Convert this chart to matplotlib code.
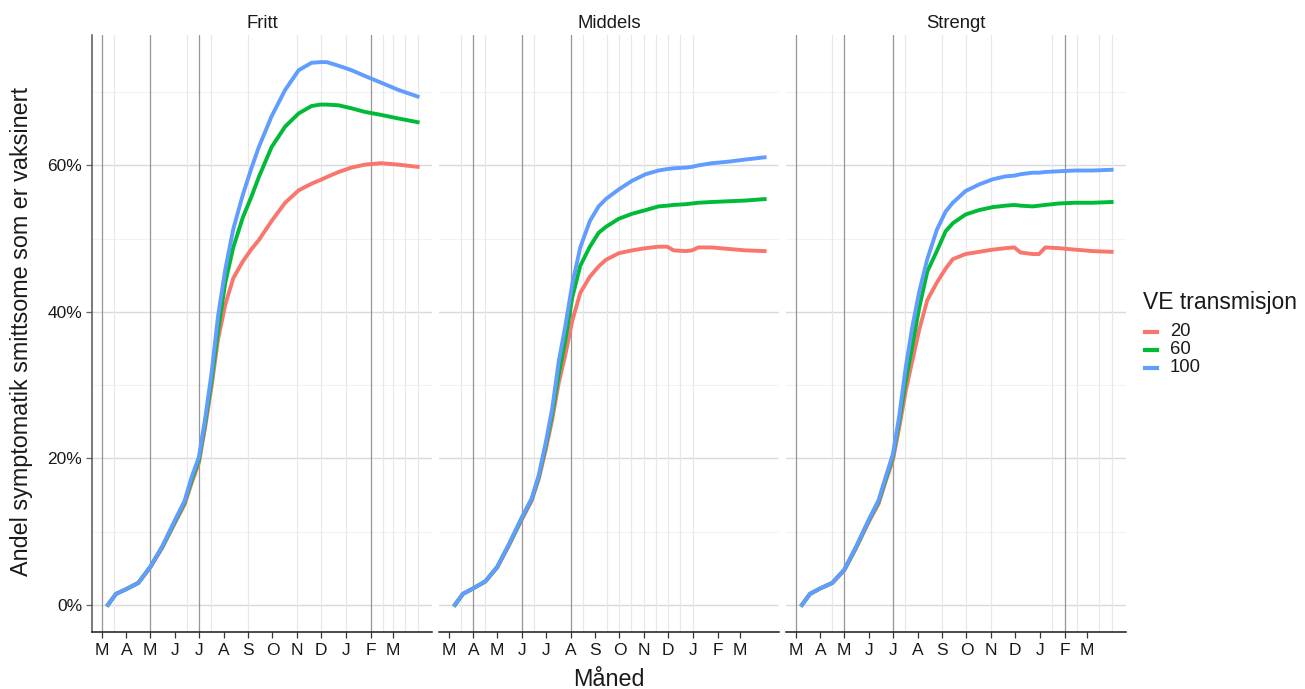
import numpy as np
import matplotlib.pyplot as plt
from matplotlib.ticker import FuncFormatter
from matplotlib.lines import Line2D

plt.rcParams['font.family'] = ['Liberation Sans', 'DejaVu Sans']

# dager etter 1. mars 2021
start = np.datetime64('2021-03-01')
dager = [8, 18, 30, 46, 61, 76, 92, 104, 113, 122, 130, 138, 146, 155, 165, 177,
         188, 197, 213, 230, 247, 263, 274, 282, 297, 305, 313, 330, 350, 372, 396]

# andel (%) per scenario og VE transmisjon
fritt_20 = [0.0, 1.5, 2.1, 3.0, 5.1, 7.8, 11.2, 13.7, 16.7, 19.4, 24.4, 30.0, 36.3, 41.0, 44.6, 46.9,
            48.6, 49.8, 52.4, 54.9, 56.6, 57.5, 58.0, 58.4, 59.1, 59.4, 59.7, 60.1, 60.3, 60.1, 59.8]
fritt_60 = [0.0, 1.5, 2.1, 3.0, 5.2, 7.9, 11.4, 14.0, 17.1, 19.8, 25.0, 30.8, 37.5, 44.0, 48.8, 52.9,
            55.8, 58.4, 62.5, 65.3, 67.1, 68.1, 68.3, 68.3, 68.2, 68.0, 67.8, 67.3, 66.9, 66.4, 65.9]
fritt_100 = [0.0, 1.5, 2.1, 3.0, 5.2, 8.0, 11.6, 14.2, 17.5, 20.2, 25.6, 31.8, 39.5, 45.8, 51.3, 56.0,
             59.7, 62.5, 66.7, 70.3, 73.0, 74.0, 74.1, 74.1, 73.6, 73.3, 73.0, 72.2, 71.3, 70.3, 69.4]

middels_20 = [0.0, 1.5, 2.2, 3.2, 5.1, 8.2, 11.7, 14.2, 17.2, 21.3, 25.4, 30.3, 34.0, 38.8, 42.6, 44.8,
              46.2, 47.1, 48.0, 48.4, 48.7, 48.9, 48.9, 48.4, 48.3, 48.4, 48.8, 48.8, 48.6, 48.4, 48.3]
middels_60 = [0.0, 1.5, 2.2, 3.2, 5.2, 8.3, 11.9, 14.4, 17.5, 21.9, 26.2, 31.5, 36.0, 42.0, 46.3, 48.9,
              50.8, 51.6, 52.7, 53.4, 53.9, 54.4, 54.5, 54.6, 54.7, 54.8, 54.9, 55.0, 55.1, 55.2, 55.4]
middels_100 = [0.0, 1.5, 2.2, 3.2, 5.2, 8.4, 12.0, 14.5, 17.7, 22.3, 26.9, 33.2, 37.9, 43.8, 48.8, 52.4,
               54.4, 55.4, 56.7, 57.9, 58.8, 59.3, 59.5, 59.6, 59.7, 59.8, 60.0, 60.3, 60.5, 60.8, 61.1]

strengt_20 = [0.0, 1.5, 2.2, 3.0, 4.7, 7.8, 11.4, 13.8, 16.9, 19.8, 24.3, 29.2, 33.2, 37.6, 41.6, 44.0,
              45.9, 47.2, 47.9, 48.2, 48.5, 48.7, 48.8, 48.1, 47.9, 47.9, 48.8, 48.7, 48.5, 48.3, 48.2]
strengt_60 = [0.0, 1.5, 2.2, 3.0, 4.8, 7.9, 11.6, 14.1, 17.2, 20.3, 25.2, 30.6, 35.2, 40.6, 45.5, 48.3,
              51.0, 52.1, 53.3, 53.9, 54.3, 54.5, 54.6, 54.5, 54.4, 54.5, 54.6, 54.8, 54.9, 54.9, 55.0]
strengt_100 = [0.0, 1.5, 2.2, 3.0, 4.8, 8.0, 11.7, 14.3, 17.5, 20.6, 25.9, 32.4, 37.8, 42.8, 47.2, 51.2,
               53.7, 54.9, 56.5, 57.4, 58.1, 58.5, 58.6, 58.8, 59.0, 59.0, 59.1, 59.2, 59.3, 59.3, 59.4]

scenarier = ['Fritt', 'Middels', 'Strengt']
ve_niva = ['20', '60', '100']
farger = ['#F8766D', '#00BA38', '#619CFF']
serier = {
    'Fritt': [fritt_20, fritt_60, fritt_100],
    'Middels': [middels_20, middels_60, middels_100],
    'Strengt': [strengt_20, strengt_60, strengt_100],
}

# tiltaksdatoer (mørke) og hjelpelinjer (lyse) per scenario
mork_linjer = {
    'Fritt': ['2021-03-01', '2021-05-01', '2021-07-01', '2022-02-01'],
    'Middels': ['2021-04-01', '2021-06-01', '2021-08-01'],
    'Strengt': ['2021-03-01', '2021-05-01', '2021-07-01', '2022-02-01'],
}
lyse_linjer = {
    'Fritt': ['2021-03-16', '2021-06-16', '2021-07-16', '2021-09-01', '2021-11-01', '2021-12-01',
              '2022-01-01', '2022-02-16', '2022-03-01', '2022-03-16', '2022-04-01'],
    'Middels': ['2021-03-16', '2021-04-16', '2021-06-16', '2021-08-16', '2021-09-16', '2021-10-01',
                '2021-10-16', '2021-11-01', '2021-11-16', '2021-12-01', '2021-12-16', '2022-01-01'],
    'Strengt': ['2021-04-16', '2021-07-16', '2021-09-01', '2021-10-01', '2021-11-01', '2022-01-16',
                '2022-02-16', '2022-03-16', '2022-04-01'],
}

maaneder = ['M', 'A', 'M', 'J', 'J', 'A', 'S', 'O', 'N', 'D', 'J', 'F', 'M']
maaned_start = np.arange(np.datetime64('2021-03'), np.datetime64('2022-04')).astype('datetime64[D]')

x = start + np.array(dager).astype('timedelta64[D]')
xmin = start - np.timedelta64(12, 'D')
xmax = start + np.timedelta64(414, 'D')

W, H = 1305, 689
fig = plt.figure(figsize=(W / 100, H / 100), dpi=100)

venstre = [92, 439, 786]
bredde = 340
bunn, topp = 632, 35

for i, navn in enumerate(scenarier):
    ax = fig.add_axes([venstre[i] / W, (H - bunn) / H, bredde / W, (bunn - topp) / H])
    ax.set_xlim(xmin, xmax)
    ax.set_ylim(-3.7, 77.8)

    # horisontalt rutenett
    for v in [10, 30, 50, 70]:
        ax.axhline(v, color='#f2f2f2', lw=0.8, zorder=0)
    for v in [0, 20, 40, 60]:
        ax.axhline(v, color='#dadada', lw=1.0, zorder=0)

    for d in lyse_linjer[navn]:
        ax.axvline(np.datetime64(d), color='#e8e8e8', lw=0.9, zorder=0.5)
    for d in mork_linjer[navn]:
        ax.axvline(np.datetime64(d), color='#969696', lw=0.9, zorder=0.6)

    for y, farge in zip(serier[navn], farger):
        ax.plot(x, y, color=farge, lw=2.8, solid_joinstyle='round', zorder=2)

    # fasettittel
    fig.text((venstre[i] + bredde / 2) / W, 1 - 28 / H, navn, ha='center', va='baseline',
             fontsize=13.3, color='#1a1a1a')

    ax.set_xticks(maaned_start)
    ax.set_xticklabels(maaneder)
    ax.tick_params(axis='x', length=4, width=0.9, color='#333333', pad=4,
                   labelsize=12.5, labelcolor='#1a1a1a')

    for s in ['top', 'right']:
        ax.spines[s].set_visible(False)
    ax.spines['bottom'].set_color('#1a1a1a')
    ax.spines['bottom'].set_linewidth(1.1)

    if i == 0:
        ax.set_yticks([0, 20, 40, 60])
        ax.yaxis.set_major_formatter(FuncFormatter(lambda v, p: f'{v:.0f}%'))
        ax.tick_params(axis='y', length=4, width=0.9, color='#666666', pad=3,
                       labelsize=12.5, labelcolor='#1a1a1a')
        ax.spines['left'].set_color('#555555')
        ax.spines['left'].set_linewidth(1.1)
    else:
        ax.set_yticks([])
        ax.spines['left'].set_visible(False)

fig.text(609 / W, 1 - 680 / H, 'Måned', ha='center', va='center', fontsize=16.8, color='#1a1a1a')
fig.text(22 / W, 1 - 332 / H, 'Andel symptomatik smittsome som er vaksinert', rotation=90,
         ha='center', va='center', fontsize=16.8, color='#1a1a1a')

# forklaring
fig.text(1143 / W, 1 - 302 / H, 'VE transmisjon', ha='left', va='center',
         fontsize=16.5, color='#1a1a1a')
for k, (etikett, farge) in enumerate(zip(ve_niva, farger)):
    yk = 1 - (332 + 18 * k) / H
    fig.add_artist(Line2D([1145 / W, 1157 / W], [yk, yk], color=farge, lw=3,
                          transform=fig.transFigure))
    fig.text(1170 / W, yk, etikett, ha='left', va='center', fontsize=13.3, color='#1a1a1a')

fig.savefig('out.png', dpi=100)
